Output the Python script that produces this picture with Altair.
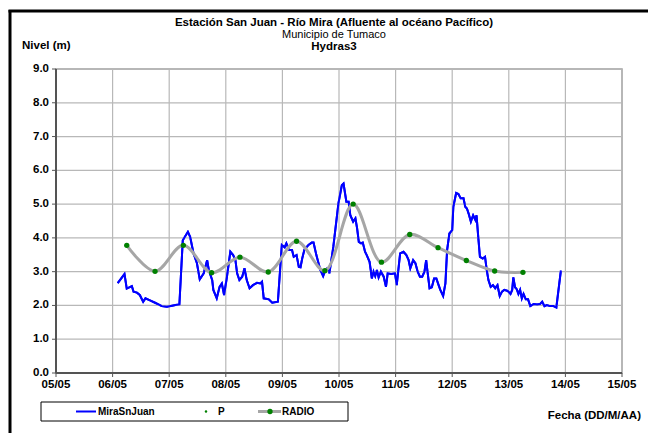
import altair as alt
import pandas as pd

# River level readings, Mira river at San Juan (day of May, metres)
mira_day = [
    6.09, 6.21, 6.25, 6.34, 6.37, 6.43, 6.48, 6.54, 6.58, 6.67, 6.75, 6.87, 6.96,
    7.05, 7.11, 7.18, 7.24, 7.33, 7.37, 7.43, 7.49, 7.54, 7.61, 7.67, 7.70, 7.76,
    7.78, 7.84, 7.89, 7.93, 7.97, 8.02, 8.08, 8.13, 8.17, 8.20, 8.24, 8.29, 8.33,
    8.37, 8.42, 8.48, 8.55, 8.61, 8.64, 8.67, 8.76, 8.82, 8.92, 8.99, 9.04, 9.07,
    9.12, 9.17, 9.20, 9.25, 9.29, 9.32, 9.35, 9.39, 9.46, 9.52, 9.55, 9.60, 9.67,
    9.72, 9.76, 9.79, 9.82, 9.83, 9.90, 9.99, 10.05, 10.08, 10.13, 10.17, 10.20,
    10.25, 10.29, 10.32, 10.35, 10.39, 10.42, 10.46, 10.49, 10.54, 10.56, 10.58,
    10.61, 10.64, 10.67, 10.70, 10.74, 10.79, 10.83, 10.86, 10.92, 10.99, 11.02,
    11.08, 11.14, 11.19, 11.23, 11.26, 11.31, 11.35, 11.39, 11.43, 11.47, 11.51,
    11.54, 11.56, 11.60, 11.64, 11.68, 11.72, 11.76, 11.79, 11.84, 11.88, 11.91,
    11.95, 12.00, 12.02, 12.07, 12.11, 12.15, 12.20, 12.23, 12.26, 12.29, 12.33,
    12.37, 12.41, 12.43, 12.46, 12.49, 12.54, 12.58, 12.61, 12.64, 12.68, 12.72,
    12.76, 12.80, 12.84, 12.88, 12.92, 12.98, 13.03, 13.06, 13.08, 13.11, 13.14,
    13.17, 13.20, 13.23, 13.26, 13.30, 13.34, 13.38, 13.44, 13.50, 13.55, 13.59,
    13.63, 13.67, 13.73, 13.79, 13.84, 13.92,
]
mira_level = [
    2.66, 2.93, 2.50, 2.57, 2.41, 2.38, 2.31, 2.11, 2.21, 2.14, 2.08, 1.98, 1.96,
    1.99, 2.01, 2.03, 3.93, 4.18, 4.03, 3.54, 3.25, 2.77, 2.95, 3.34, 3.05, 2.75,
    2.46, 2.21, 2.55, 2.65, 2.31, 2.85, 3.59, 3.49, 3.34, 2.95, 2.75, 2.85, 3.10,
    2.75, 2.51, 2.60, 2.67, 2.65, 2.70, 2.21, 2.18, 2.08, 2.11, 3.79, 3.72, 3.84,
    3.64, 3.64, 3.44, 3.49, 3.14, 3.13, 3.39, 3.66, 3.79, 3.86, 3.86, 3.49, 3.05,
    2.87, 3.05, 3.10, 3.12, 2.95, 3.74, 5.02, 5.56, 5.61, 5.07, 5.07, 4.67,
    4.48, 4.58, 4.28, 3.88, 3.84, 3.86, 3.59, 3.49, 3.29, 3.05, 2.80,
    3.00, 2.87, 3.05, 2.83, 3.00, 2.85, 2.55, 2.95, 2.93, 2.95, 2.60,
    3.54, 3.59, 3.49, 3.34, 3.10, 3.34, 3.25, 3.00, 2.85, 2.85, 3.00,
    3.34, 3.05, 2.51, 2.54, 2.80, 2.80, 2.60, 2.46, 2.28, 2.65, 3.64,
    4.13, 4.23, 4.92, 5.33, 5.30, 5.17, 5.17, 4.92, 4.87, 4.72, 4.48,
    4.67, 4.53, 4.67, 4.03, 3.44, 3.39, 3.44, 3.05, 2.75, 2.55, 2.60,
    2.51, 2.60, 2.28, 2.41, 2.46, 2.43, 2.34, 2.46, 2.83, 2.54, 2.48,
    2.34, 2.46, 2.21, 2.34, 2.18, 2.18, 1.98, 2.04, 2.03, 2.04, 2.11,
    1.98, 2.01, 1.98, 1.98, 1.94, 3.03,
]

# Twice-daily radio reports
radio_day = [6.25, 6.75, 7.25, 7.75, 8.25, 8.75, 9.25, 9.75, 10.25, 10.75,
             11.25, 11.75, 12.25, 12.75, 13.25]
radio_level = [3.78, 3.01, 3.78, 2.97, 3.43, 2.99, 3.90, 3.03, 5.00, 3.28,
               4.10, 3.71, 3.33, 3.02, 2.98]

x_ticks = [5, 6, 7, 8, 9, 10, 11, 12, 13, 14, 15]
y_ticks = [0, 1, 2, 3, 4, 5, 6, 7, 8, 9]

FONT = "Liberation Sans"
BLUE = "#0000FF"
GREEN = "#008000"
GREY = "#A6A6A6"
GRID = "#B8B8B8"
AXIS = "#555555"

mira = pd.DataFrame({"day": mira_day, "level": mira_level})
radio = pd.DataFrame({"day": radio_day, "level": radio_level})
xt = pd.DataFrame({"day": x_ticks})
yt = pd.DataFrame({"level": y_ticks})

x_scale = alt.Scale(domain=[5, 15], nice=False, zero=False)
y_scale = alt.Scale(domain=[0, 9], nice=False)
X = alt.X("day:Q", scale=x_scale, axis=None)
Y = alt.Y("level:Q", scale=y_scale, axis=None)

blue_line = alt.Chart(mira).mark_line(color=BLUE, strokeWidth=2).encode(x=X, y=Y)

# Gridlines at each major tick
vgrid = alt.Chart(xt).mark_rule(color=GRID, strokeWidth=1.2).encode(x=X)
hgrid = alt.Chart(yt).mark_rule(color=GRID, strokeWidth=1.2).encode(y=Y)

radio_curve = alt.Chart(radio).mark_line(
    color=GREY, strokeWidth=3, interpolate="catmull-rom"
).encode(x=X, y=Y)

radio_pts = alt.Chart(radio).mark_point(
    filled=True, color=GREEN, size=28, opacity=1
).encode(x=X, y=Y)

# Axis lines, tick marks and tick labels
x_domain = alt.Chart(xt).mark_rule(color=AXIS, strokeWidth=1.5).encode(
    x=alt.value(0), x2=alt.value(566), y=alt.value(304))
y_domain = alt.Chart(yt).mark_rule(color=AXIS, strokeWidth=1.5).encode(
    x=alt.value(0), y=alt.value(0), y2=alt.value(304))
x_tickmarks = alt.Chart(xt).mark_rule(color=AXIS, strokeWidth=1).encode(
    x=X, y=alt.value(304), y2=alt.value(308))
y_tickmarks = alt.Chart(yt).mark_rule(color=AXIS, strokeWidth=1).encode(
    y=Y, x=alt.value(-4), x2=alt.value(0))
x_labels = alt.Chart(xt).transform_calculate(
    lab="format(datum.day, '02d') + '/05'"
).mark_text(
    font=FONT, fontSize=11.5, fontWeight="bold", color="#000000",
    align="center", baseline="top",
).encode(x=X, y=alt.value(310), text="lab:N")
y_labels = alt.Chart(yt).transform_calculate(
    lab="format(datum.level, '.1f')"
).mark_text(
    font=FONT, fontSize=11.5, fontWeight="bold", color="#000000",
    align="right", baseline="middle",
).encode(y=Y, x=alt.value(-7), text="lab:N")

anchor = pd.DataFrame({"k": [0]})


def label(txt, x, y, size=11, weight="bold", align="center"):
    return alt.Chart(anchor).mark_text(
        text=txt, font=FONT, fontSize=size, fontWeight=weight, align=align,
        baseline="middle", color="#000000",
    ).encode(x=alt.value(x), y=alt.value(y))


def hline(x1, x2, y, color, width):
    return alt.Chart(anchor).mark_rule(color=color, strokeWidth=width).encode(
        x=alt.value(x1), x2=alt.value(x2), y=alt.value(y))


# Outer frame (left and top edges)
frame_left = alt.Chart(anchor).mark_rule(color="#000000", strokeWidth=3).encode(
    x=alt.value(-46), y=alt.value(-59), y2=alt.value(370))
frame_top = hline(-47.5, 600, -58, "#000000", 3)

titles = [
    label("Estación San Juan  - Río Mira (Afluente al océano Pacífico)", 278, -46, 11.5),
    label("Municipio de Tumaco", 278, -34, 11, "normal"),
    label("Hydras3", 278, -22, 11.5),
    label("Nivel (m)", -34, -23, 11.5, align="left"),
    label("Fecha (DD/M/AA)", 585, 347, 11.5, align="right"),
]

legend_box = alt.Chart(anchor).mark_rect(
    fill="#FFFFFF", stroke="#000000", strokeWidth=1
).encode(x=alt.value(-15), x2=alt.value(292), y=alt.value(333), y2=alt.value(352))

legend_items = [
    hline(20, 40, 342.5, BLUE, 2),
    label("MiraSnJuan", 42, 342.5, 10, align="left"),
    alt.Chart(anchor).mark_point(filled=True, color=GREEN, size=6, opacity=1).encode(
        x=alt.value(150), y=alt.value(342.5)),
    label("P", 162, 342.5, 10, align="left"),
    hline(202, 225, 342.5, GREY, 3),
    alt.Chart(anchor).mark_point(filled=True, color=GREEN, size=28, opacity=1).encode(
        x=alt.value(214), y=alt.value(342.5)),
    label("RADIO", 226, 342.5, 10, align="left"),
]

chart = alt.layer(
    blue_line, vgrid, hgrid, blue_line, radio_curve, radio_pts,
    x_domain, y_domain, x_tickmarks, y_tickmarks, x_labels, y_labels,
    frame_left, frame_top, *titles, legend_box, *legend_items,
).properties(
    width=566, height=304,
    autosize=alt.AutoSizeParams(type="none"),
    padding={"left": 56, "top": 69, "right": 26, "bottom": 60},
    background="#FFFFFF",
).configure_view(
    stroke="#A0A0A0", strokeWidth=1.5
)

chart.save("out.html", embed_options={"renderer": "svg", "actions": False})
